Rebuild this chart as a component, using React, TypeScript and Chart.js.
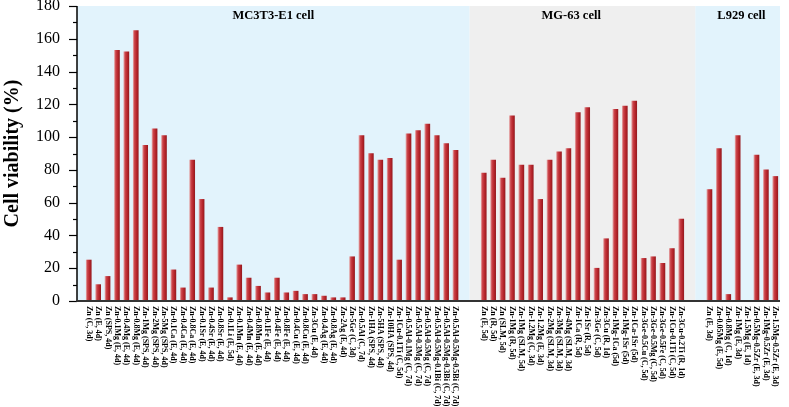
import { useEffect, useRef } from 'react';
import { Chart, registerables } from 'chart.js';

Chart.register(...registerables);

// ---------- data ----------
const mc3t3Labels = [
  'Zn (C, 3d)', 'Zn (E, 4d)', 'Zn (SPS, 4d)', 'Zn-0.1Mg (E, 4d)', 'Zn-0.4Mg (E, 4d)',
  'Zn-0.8Mg (E, 4d)', 'Zn-1Mg (SPS, 4d)', 'Zn-2Mg (SPS, 4d)', 'Zn-5Mg (SPS, 4d)', 'Zn-0.1Ca (E, 4d)',
  'Zn-0.4Ca (E, 4d)', 'Zn-0.8Ca (E, 4d)', 'Zn-0.1Sr (E, 4d)', 'Zn-0.4Sr (E, 4d)', 'Zn-0.8Sr (E, 4d)',
  'Zn-0.1Li (E, 5d)', 'Zn-0.1Mn (E, 4d)', 'Zn-0.4Mn (E, 4d)', 'Zn-0.8Mn (E, 4d)', 'Zn-0.1Fe (E, 4d)',
  'Zn-0.4Fe (E, 4d)', 'Zn-0.8Fe (E, 4d)', 'Zn-0.4Cu (E, 4d)', 'Zn-0.8Cu (E, 4d)', 'Zn-3Cu (E, 4d)',
  'Zn-0.4Ag (E, 4d)', 'Zn-0.8Ag (E, 4d)', 'Zn-2Ag (E, 4d)', 'Zn-5Ge (C, 3d)', 'Zn-0.5Al (C, 7d)',
  'Zn-1HA (SPS, 4d)', 'Zn-5HA (SPS, 4d)', 'Zn-10HA (SPS, 4d)', 'Zn-1Cu-0.1Ti (C, 5d)', 'Zn-0.5Al-0.1Mg (C, 7d)',
  'Zn-0.5Al-0.3Mg (C, 7d)', 'Zn-0.5Al-0.5Mg (C, 7d)', 'Zn-0.5Al-0.5Mg-0.1Bi (C, 7d)',
  'Zn-0.5Al-0.5Mg-0.3Bi (C, 7d)', 'Zn-0.5Al-0.5Mg-0.5Bi (C, 7d)',
];
const mc3t3Values = [
  25, 10, 15, 153, 152, 165, 95, 105, 101, 19,
  8, 86, 62, 8, 45, 2, 22, 14, 9, 5,
  14, 5, 6, 4, 4, 3, 2, 2, 27, 101,
  90, 86, 87, 25, 102, 104, 108, 101, 96, 92,
];

const mg63Labels = [
  'Zn (E, 5d)', 'Zn (R, 5d)', 'Zn (SLM, 5d)', 'Zn-1Mg (R, 5d)', 'Zn-1Mg (SLM, 5d)',
  'Zn-1.2Mg (C, 3d)', 'Zn-1.2Mg (E, 3d)', 'Zn-2Mg (SLM, 3d)', 'Zn-3Mg (SLM, 3d)', 'Zn-4Mg (SLM, 3d)',
  'Zn-1Ca (R, 5d)', 'Zn-1Sr (R, 5d)', 'Zn-3Ge (C, 5d)', 'Zn-3Cu (R, 1d)', 'Zn-1Mg-1Ca (5d)',
  'Zn-1Mg-1Sr (5d)', 'Zn-1Ca-1Sr (5d)', 'Zn-3Ge-0.5Cu (C, 5d)', 'Zn-3Ge-0.5Mg (C, 5d)', 'Zn-3Ge-0.5Fe (C, 5d)',
  'Zn-1Cu-0.1Ti (C, 5d)', 'Zn-3Cu-0.2Ti (R, 1d)',
];
const mg63Values = [
  78, 86, 75, 113, 83, 83, 62, 86, 91, 93,
  115, 118, 20, 38, 117, 119, 122, 26, 27, 23,
  32, 50,
];

const l929Labels = [
  'Zn (E, 3d)', 'Zn-0.05Mg (E, 5d)', 'Zn-0.8Mg (C, 1d)', 'Zn-1Mg (E, 3d)', 'Zn-1.5Mg (E, 1d)',
  'Zn-0.5Mg-0.5Zr (E, 3d)', 'Zn-1Mg-0.5Zr (E, 3d)', 'Zn-1.5Mg-0.5Zr (E, 3d)',
];
const l929Values: (number | null)[] = [68, 93, 4, 101, null, 89, 80, 76];

const groupTitles = ['MC3T3-E1 cell', 'MG-63 cell', 'L929 cell'];
const groupShades = ['#E2F3FC', '#EFEFEF', '#E2F3FC'];
const yTickValues = [0, 20, 40, 60, 80, 100, 120, 140, 160, 180];
const yTitle = 'Cell viability (%)';

// ---------- layout constants ----------
const GAP = 2; // empty slots between groups
const SERIF = '"Liberation Serif", "Times New Roman", serif';
const TITLE_SHIFT = [0, -1.2, 0.4];

const groups = [
  { labels: mc3t3Labels, values: mc3t3Values as (number | null)[] },
  { labels: mg63Labels, values: mg63Values as (number | null)[] },
  { labels: l929Labels, values: l929Values },
];

const allLabels: string[] = [];
const allValues: (number | null)[] = [];
const ranges: { s: number; e: number }[] = [];
groups.forEach((g, gi) => {
  if (gi > 0) {
    for (let k = 0; k < GAP; k++) {
      allLabels.push('');
      allValues.push(null);
    }
  }
  const s = allLabels.length;
  g.labels.forEach((l, i) => {
    allLabels.push(l);
    allValues.push(g.values[i]);
  });
  ranges.push({ s, e: allLabels.length - 1 });
});
const X_MIN = -1.25;
const X_MAX = allLabels.length - 0.5;

const decorPlugin = {
  id: 'decor',
  beforeDatasetsDraw(chart: any) {
    const { ctx, chartArea } = chart;
    const xs = chart.scales.x;
    ctx.save();
    ranges.forEach((r, i) => {
      const left = i === 0 ? chartArea.left : xs.getPixelForValue(r.s - GAP / 2 - 0.5);
      const right = i === ranges.length - 1 ? chartArea.right : xs.getPixelForValue(r.e + GAP / 2 + 0.5);
      ctx.fillStyle = groupShades[i];
      ctx.fillRect(left, chartArea.top, right - left, chartArea.bottom - chartArea.top);
      const lv = i === 0 ? X_MIN : r.s - GAP / 2 - 0.5;
      const rv = i === ranges.length - 1 ? X_MAX : r.e + GAP / 2 + 0.5;
      const cx = xs.getPixelForValue((lv + rv) / 2 + TITLE_SHIFT[i]);
      ctx.fillStyle = '#000';
      ctx.font = `bold 12.5px ${SERIF}`;
      ctx.textAlign = 'center';
      ctx.textBaseline = 'middle';
      ctx.fillText(groupTitles[i], cx, chartArea.top + 10);
    });
    ctx.restore();
  },
  afterDatasetsDraw(chart: any) {
    const { ctx, chartArea } = chart;
    const xs = chart.scales.x;
    const ys = chart.scales.y;
    ctx.save();
    ctx.strokeStyle = '#000';
    // y ticks (major & minor)
    ctx.lineWidth = 1.2;
    for (let v = 0; v <= 180; v += 10) {
      const y = Math.round(ys.getPixelForValue(v)) + 0.5;
      const len = v % 20 === 0 ? 8 : 4;
      ctx.beginPath();
      ctx.moveTo(chartArea.left - len, y);
      ctx.lineTo(chartArea.left, y);
      ctx.stroke();
    }
    // axes lines
    ctx.lineWidth = 1.5;
    ctx.beginPath();
    ctx.moveTo(chartArea.left, chartArea.top);
    ctx.lineTo(chartArea.left, chartArea.bottom);
    ctx.stroke();
    ctx.strokeStyle = '#333';
    ctx.lineWidth = 2;
    ctx.beginPath();
    ctx.moveTo(chartArea.left - 0.75, chartArea.bottom);
    ctx.lineTo(chartArea.right, chartArea.bottom);
    ctx.stroke();
    // x labels, rotated clockwise
    ctx.fillStyle = '#000';
    ctx.font = `bold 8px ${SERIF}`;
    ctx.textAlign = 'left';
    ctx.textBaseline = 'middle';
    allLabels.forEach((l, i) => {
      if (!l) return;
      const px = xs.getPixelForValue(i);
      ctx.save();
      ctx.translate(px, chartArea.bottom + 5);
      ctx.rotate(Math.PI / 2);
      ctx.fillText(l, 0, 0);
      ctx.restore();
    });
    // y title
    ctx.font = `bold 20px ${SERIF}`;
    ctx.textAlign = 'center';
    ctx.textBaseline = 'middle';
    ctx.save();
    ctx.translate(13, (chartArea.top + chartArea.bottom) / 2);
    ctx.rotate(-Math.PI / 2);
    ctx.fillText(yTitle, 0, 0);
    ctx.restore();
    ctx.restore();
  },
};

export default function App() {
  const ref = useRef<HTMLCanvasElement | null>(null);
  useEffect(() => {
    if (!ref.current) return;
    const points = allValues
      .map((v, i) => ({ x: i, y: v }))
      .filter((p) => p.y !== null);
    const chart = new Chart(ref.current, {
      type: 'bar',
      data: {
        datasets: [
          {
            data: points as any,
            barThickness: 5,
            backgroundColor: (c: any) => {
              const xs = c.chart.scales?.x;
              if (!xs || c.type !== 'data' || !c.raw) return '#B92A30';
              const px = xs.getPixelForValue(c.raw.x);
              if (!Number.isFinite(px)) return '#B92A30';
              const g = c.chart.ctx.createLinearGradient(px - 2.5, 0, px + 2.5, 0);
              g.addColorStop(0, '#E29A9B');
              g.addColorStop(0.25, '#CB454B');
              g.addColorStop(0.65, '#B8262C');
              g.addColorStop(1, '#981B20');
              return g;
            },
            borderWidth: 0,
          },
        ],
      },
      options: {
        responsive: false,
        animation: false,
        events: [],
        layout: { padding: { top: 6, right: 9, left: 0, bottom: 0 } },
        plugins: { legend: { display: false }, tooltip: { enabled: false } },
        scales: {
          x: {
            type: 'linear',
            offset: false,
            min: X_MIN,
            max: X_MAX,
            grid: { display: false, offset: false },
            border: { display: false },
            ticks: { display: false },
            afterFit: (s: any) => {
              s.height = 106;
              s.paddingLeft = 0;
              s.paddingRight = 0;
            },
          },
          y: {
            min: 0,
            max: 180,
            afterBuildTicks: (s: any) => {
              s.ticks = yTickValues.map((v) => ({ value: v }));
            },
            ticks: {
              color: '#000',
              padding: 9,
              font: { family: SERIF, size: 16 },
            },
            grid: { display: false },
            border: { display: false },
            afterFit: (s: any) => {
              s.width = 77;
              s.paddingTop = 0;
              s.paddingBottom = 0;
            },
          },
        },
      },
      plugins: [decorPlugin],
    });
    return () => chart.destroy();
  }, []);
  return (
    <div style={{ position: 'absolute', left: 0, top: 0, width: 789, height: 407, background: '#fff' }}>
      <canvas ref={ref} width={789} height={407} style={{ display: 'block' }} />
    </div>
  );
}
